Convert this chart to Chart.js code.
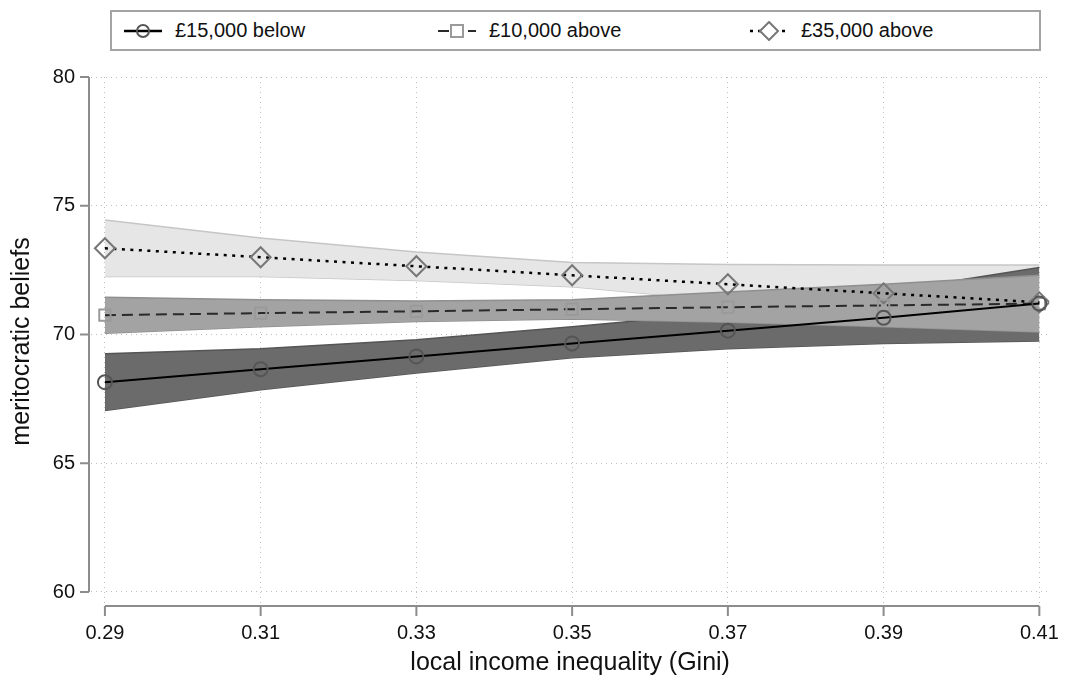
<!DOCTYPE html>
<html>
<head>
<meta charset="utf-8">
<script src="https://cdn.jsdelivr.net/npm/chart.js@4/dist/chart.umd.min.js"></script>
<style>
  body { margin: 0; background: #fff; font-family: "Liberation Sans", Arial, sans-serif; }
  #wrap { position: relative; width: 1074px; height: 681px; }
  #legend { position: absolute; left: 110px; top: 10px; width: 931px; height: 41px;
            box-sizing: border-box; border: 2px solid #a4a4a4; background: #fff; }
  .item { position: absolute; top: 0; height: 37px; display: flex; align-items: center;
          font-size: 20px; color: #111; white-space: nowrap; }
  .item svg { margin-right: 13px; }
</style>
</head>
<body>
<div id="wrap">
  <canvas id="chart" width="1074" height="681"></canvas>
  <div id="legend"></div>
</div>
<script>
// x values (Gini) and tick labels
var gini = [0.29, 0.31, 0.33, 0.35, 0.37, 0.39, 0.41];
var yTicks = [60, 65, 70, 75, 80];

// £15,000 below
var lowFit   = [68.15, 68.65, 69.15, 69.65, 70.15, 70.65, 71.2];
var lowUpper = [69.25, 69.45, 69.8, 70.3, 70.85, 71.65, 72.6];
var lowLower = [67.05, 67.85, 68.5, 69.1, 69.45, 69.65, 69.75];
// £10,000 above
var midFit   = [70.75, 70.83, 70.9, 70.98, 71.06, 71.13, 71.2];
var midUpper = [71.45, 71.35, 71.3, 71.35, 71.65, 71.95, 72.3];
var midLower = [70.05, 70.3, 70.5, 70.6, 70.48, 70.3, 70.1];
// £35,000 above
var highFit   = [73.35, 73.0, 72.65, 72.3, 71.95, 71.6, 71.25];
var highUpper = [74.45, 73.75, 73.2, 72.8, 72.72, 72.7, 72.7];
var highLower = [72.25, 72.25, 72.1, 71.85, 71.3, 70.6, 69.8];

var seriesNames = ["£15,000 below", "£10,000 above", "£35,000 above"];

function pts(arr) {
    return arr.map(function (v, i) { return { x: gini[i], y: v }; });
}

function band(upper, lower, fillCol, lineCol, order) {
    return [
        { data: pts(upper), fill: '+1', backgroundColor: fillCol, borderColor: lineCol,
          borderWidth: 1.5, pointRadius: 0, order: order },
        { data: pts(lower), fill: false, borderColor: lineCol,
          borderWidth: 1.5, pointRadius: 0, order: order }
    ];
}

var datasets = []
    .concat(band(midUpper, midLower, '#a3a3a3', '#8f8f8f', 1))
    .concat(band(lowUpper, lowLower, '#6b6b6b', '#555555', 2))
    .concat(band(highUpper, highLower, '#e6e6e6', '#c6c6c6', 3))
    .concat([
        { label: seriesNames[0], data: pts(lowFit), borderColor: '#000', borderWidth: 2,
          pointStyle: 'circle', pointRadius: 7, pointBorderColor: '#555', pointBorderWidth: 2,
          pointBackgroundColor: 'rgba(0,0,0,0)', fill: false, order: 0 },
        { label: seriesNames[1], data: pts(midFit), borderColor: '#2a2a2a', borderWidth: 2,
          borderDash: [11, 6], pointStyle: 'rect', pointRadius: 8, pointBorderColor: '#9a9a9a',
          pointBorderWidth: 2, pointBackgroundColor: 'rgba(0,0,0,0)', fill: false, order: 0 },
        { label: seriesNames[2], data: pts(highFit), borderColor: '#000', borderWidth: 2.5,
          borderDash: [3, 5.5], pointStyle: 'rectRot', pointRadius: 10, pointBorderColor: '#777',
          pointBorderWidth: 2, pointBackgroundColor: 'rgba(0,0,0,0)', fill: false, order: 0 }
    ]);

// Stata-style axis lines, offset from the plot region
var axisLines = {
    id: 'axisLines',
    afterDraw: function (chart) {
        var ctx = chart.ctx, xs = chart.scales.x, ys = chart.scales.y;
        ctx.save();
        ctx.strokeStyle = '#8c8c8c';
        ctx.lineWidth = 2;
        ctx.beginPath();
        var ax = 89;
        ctx.moveTo(ax, ys.getPixelForValue(yTicks[yTicks.length - 1]));
        ctx.lineTo(ax, ys.getPixelForValue(yTicks[0]));
        yTicks.forEach(function (v) {
            var p = ys.getPixelForValue(v);
            ctx.moveTo(ax - 9, p);
            ctx.lineTo(ax, p);
        });
        var ay = 606;
        ctx.moveTo(xs.getPixelForValue(gini[0]), ay);
        ctx.lineTo(xs.getPixelForValue(gini[gini.length - 1]), ay);
        gini.forEach(function (v) {
            var p = xs.getPixelForValue(v);
            ctx.moveTo(p, ay);
            ctx.lineTo(p, ay + 10);
        });
        ctx.stroke();
        ctx.restore();
    }
};

var font = "'Liberation Sans', Arial, sans-serif";

new Chart(document.getElementById('chart').getContext('2d'), {
    type: 'line',
    data: { datasets: datasets },
    options: {
        responsive: false,
        animation: false,
        layout: { padding: { top: 77, right: 19, left: 0, bottom: 0 } },
        plugins: {
            legend: { display: false },
            tooltip: { enabled: false },
            filler: { propagate: false }
        },
        scales: {
            x: {
                type: 'linear',
                min: 0.288213,
                max: 0.411277,
                afterBuildTicks: function (s) { s.ticks = gini.map(function (v) { return { value: v }; }); },
                afterFit: function (s) { s.height = 75; },
                ticks: {
                    autoSkip: false, maxRotation: 0, padding: 15, color: '#111',
                    font: { family: font, size: 20 },
                    callback: function (v) { return Number(v).toFixed(2); }
                },
                grid: { color: '#bdbdbd', lineWidth: 1, drawTicks: false },
                border: { display: false, dash: [1, 4] },
                title: {
                    display: true, text: 'local income inequality (Gini)', color: '#111',
                    font: { family: font, size: 25 }, padding: { top: 0, bottom: 3 }
                }
            },
            y: {
                min: 59.456,
                max: 80,
                afterBuildTicks: function (s) { s.ticks = yTicks.map(function (v) { return { value: v }; }); },
                afterFit: function (s) { s.width = 91; },
                ticks: {
                    padding: 16, color: '#111',
                    font: { family: font, size: 20 },
                    callback: function (v) { return String(v); }
                },
                grid: { color: '#bdbdbd', lineWidth: 1, drawTicks: false },
                border: { display: false, dash: [1, 4] },
                title: {
                    display: true, text: 'meritocratic beliefs', color: '#111',
                    font: { family: font, size: 25 }, padding: { top: 7, bottom: 0 }
                }
            }
        }
    },
    plugins: [axisLines]
});

// legend with line + marker symbols
var legendSymbols = [
    '<line x1="0" y1="10" x2="38" y2="10" stroke="#000" stroke-width="2.5"/>' +
    '<circle cx="19" cy="10" r="6" fill="none" stroke="#555" stroke-width="2"/>',
    '<line x1="0" y1="10" x2="38" y2="10" stroke="#2a2a2a" stroke-width="2" stroke-dasharray="11 4"/>' +
    '<rect x="13" y="4" width="12" height="12" fill="#fff" stroke="#9a9a9a" stroke-width="2"/>',
    '<line x1="0" y1="10" x2="38" y2="10" stroke="#000" stroke-width="2.5" stroke-dasharray="3 5"/>' +
    '<polygon points="19,1 28,10 19,19 10,10" fill="#fff" stroke="#777" stroke-width="2"/>'
];
var legendLeft = [12, 326, 638];
var legend = document.getElementById('legend');
seriesNames.forEach(function (name, i) {
    var d = document.createElement('div');
    d.className = 'item';
    d.style.left = legendLeft[i] + 'px';
    d.innerHTML = '<svg width="38" height="20">' + legendSymbols[i] + '</svg><span>' + name + '</span>';
    legend.appendChild(d);
});
</script>
</body>
</html>
